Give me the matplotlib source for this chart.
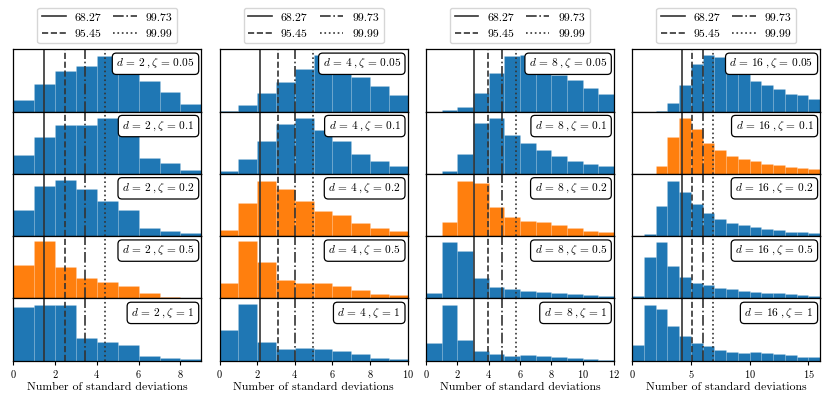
import numpy as np
import matplotlib
matplotlib.use("Agg")
import matplotlib.pyplot as plt

plt.rcParams['font.family'] = 'serif'
plt.rcParams['font.serif'] = ['cmr10', 'DejaVu Serif']
plt.rcParams['mathtext.fontset'] = 'cm'
plt.rcParams['axes.formatter.use_mathtext'] = True
plt.rcParams['axes.unicode_minus'] = False

# rows / columns
dims = [2, 4, 8, 16]
zetas = [0.05, 0.1, 0.2, 0.5, 1]
x_max = [9, 10, 12, 16]
x_ticks = [[0, 2, 4, 6, 8], [0, 2, 4, 6, 8, 10], [0, 2, 4, 6, 8, 10, 12], [0, 5, 10, 15]]

# coverage levels and their positions (in standard deviations) per dimension
levels = ['68.27', '95.45', '99.73', '99.99']
level_styles = ['-', '--', '-.', ':']
sigmas_d2 = [1.49, 2.48, 3.44, 4.39]
sigmas_d4 = [2.16, 3.10, 4.03, 4.95]
sigmas_d8 = [3.05, 3.99, 4.86, 5.78]
sigmas_d16 = [4.26, 5.12, 6.00, 6.88]

# histogram heights (unit bins, fraction of panel height)
hist_d2 = [
    [0.19, 0.44, 0.65, 0.735, 0.90, 0.90, 0.49, 0.31, 0.125],
    [0.30, 0.59, 0.78, 0.78, 0.89, 0.90, 0.26, 0.17, 0.07],
    [0.42, 0.805, 0.905, 0.76, 0.56, 0.42, 0.13, 0.09, 0.05],
    [0.54, 0.92, 0.50, 0.32, 0.27, 0.20, 0.08, 0.03, 0.01],
    [0.86, 0.90, 0.90, 0.36, 0.305, 0.25, 0.075, 0.05, 0.025],
]
hist_d4 = [
    [0.016, 0.10, 0.30, 0.48, 0.68, 0.91, 0.74, 0.56, 0.41, 0.27],
    [0.04, 0.24, 0.53, 0.80, 0.90, 0.71, 0.53, 0.32, 0.21, 0.13],
    [0.095, 0.53, 0.89, 0.76, 0.56, 0.41, 0.34, 0.21, 0.13, 0.085],
    [0.24, 0.92, 0.58, 0.29, 0.245, 0.24, 0.20, 0.135, 0.07, 0.05],
    [0.50, 0.91, 0.30, 0.18, 0.20, 0.19, 0.16, 0.11, 0.05, 0.03],
]
hist_d8 = [
    [0.0, 0.02, 0.07, 0.30, 0.62, 0.89, 0.91, 0.75, 0.58, 0.50, 0.38, 0.28],
    [0.0, 0.04, 0.32, 0.82, 0.90, 0.63, 0.49, 0.385, 0.29, 0.20, 0.16, 0.13],
    [0.0, 0.22, 0.89, 0.86, 0.46, 0.30, 0.24, 0.22, 0.18, 0.13, 0.08, 0.06],
    [0.09, 0.91, 0.76, 0.335, 0.19, 0.15, 0.125, 0.11, 0.09, 0.07, 0.05, 0.04],
    [0.28, 0.90, 0.34, 0.16, 0.11, 0.08, 0.085, 0.07, 0.065, 0.045, 0.03, 0.01],
]
hist_d16 = [
    [0.0, 0.0, 0.016, 0.14, 0.42, 0.76, 0.91, 0.87, 0.78, 0.62, 0.49, 0.42, 0.36, 0.29, 0.26, 0.21],
    [0.0, 0.0, 0.12, 0.59, 0.90, 0.72, 0.50, 0.39, 0.29, 0.24, 0.20, 0.16, 0.15, 0.11, 0.09, 0.08],
    [0.0, 0.03, 0.48, 0.89, 0.71, 0.51, 0.37, 0.28, 0.21, 0.18, 0.15, 0.12, 0.10, 0.07, 0.065, 0.055],
    [0.04, 0.67, 0.90, 0.52, 0.34, 0.25, 0.21, 0.17, 0.145, 0.12, 0.11, 0.09, 0.08, 0.065, 0.05, 0.04],
    [0.25, 0.90, 0.83, 0.56, 0.40, 0.29, 0.235, 0.17, 0.14, 0.13, 0.14, 0.12, 0.10, 0.09, 0.065, 0.055],
]

# panels drawn in orange
highlight = {2: [0.5], 4: [0.2, 0.5], 8: [0.2], 16: [0.1]}

all_hists = [hist_d2, hist_d4, hist_d8, hist_d16]
all_sigmas = [sigmas_d2, sigmas_d4, sigmas_d8, sigmas_d16]

fig = plt.figure(figsize=(8.3, 3.99), dpi=100)

left0, col_step, width = 13.3 / 830, 206.3 / 830, 188 / 830
top, bottom = 1 - 49.3 / 399, 1 - 360.7 / 399
row_h = (top - bottom) / len(zetas)

for c, d in enumerate(dims):
    for r, z in enumerate(zetas):
        ax = fig.add_axes([left0 + c * col_step, top - (r + 1) * row_h, width, row_h])
        vals = all_hists[c][r]
        edges = np.arange(len(vals) + 1)
        color = '#ff7f0e' if z in highlight[d] else '#1f77b4'
        ax.bar(edges[:-1], vals, width=1, align='edge', color=color,
               edgecolor=(1, 1, 1, 0.12), linewidth=0.6)
        handles = []
        for s, ls, lab in zip(all_sigmas[c], level_styles, levels):
            h = ax.axvline(s, color='#333333', ls=ls, lw=1.2, label=lab)
            handles.append(h)
        ax.set_xlim(0, x_max[c])
        ax.set_ylim(0, 1)
        ax.set_yticks([])
        for sp in ax.spines.values():
            sp.set_linewidth(0.9)
        ax.text(0.965, 0.875, rf'$d\,=\,{d}\;,\zeta\,=\,{z}$', transform=ax.transAxes,
                ha='right', va='top', fontsize=8.2,
                bbox=dict(boxstyle='round,pad=0.35', fc='white', ec='black', lw=0.9))
        if r == len(zetas) - 1:
            ax.set_xticks(x_ticks[c])
            ax.tick_params(axis='x', labelsize=7.5, length=3, width=0.8, pad=2)
            ax.set_xlabel('Number of standard deviations', fontsize=8.5, labelpad=2)
        else:
            ax.set_xticks([])
        if r == 0:
            ax.legend(handles=handles, loc='lower center', bbox_to_anchor=(0.5, 1.0),
                      ncol=2, fontsize=8.5, columnspacing=1.0, handlelength=2.0,
                      borderaxespad=0.5, labelspacing=0.5, handletextpad=0.75)

fig.savefig('out.png', dpi=100)
